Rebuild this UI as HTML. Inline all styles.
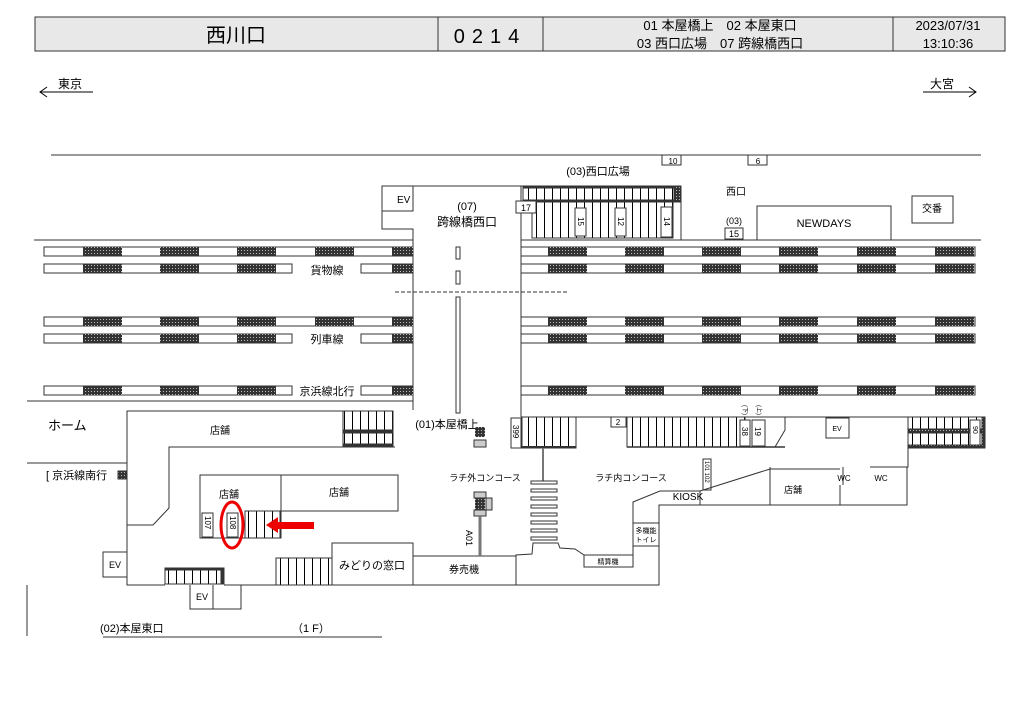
<!DOCTYPE html>
<html><head><meta charset="utf-8"><style>
html,body{margin:0;padding:0;background:#fff;}
svg{display:block;font-family:"Liberation Sans","Noto Sans CJK JP",sans-serif;}
</style></head><body>
<svg width="1024" height="724" viewBox="0 0 1024 724" xmlns="http://www.w3.org/2000/svg">
<defs>
<pattern id="dots" width="3" height="3" patternUnits="userSpaceOnUse"><rect width="3" height="3" fill="#333"/><rect x="1" y="1" width="1" height="1" fill="#bbb"/></pattern>
<pattern id="st" width="8" height="10" patternUnits="userSpaceOnUse"><line x1="0.5" y1="0" x2="0.5" y2="10" stroke="#000" stroke-width="1"/></pattern>
</defs>
<!-- header -->
<rect x="35" y="17" width="970" height="34" fill="#e8e8e8" stroke="#333"/>
<line x1="438" y1="17" x2="438" y2="51" stroke="#333"/>
<line x1="543" y1="17" x2="543" y2="51" stroke="#333"/>
<line x1="893" y1="17" x2="893" y2="51" stroke="#333"/>
<text x="236" y="42" font-size="20" text-anchor="middle">西川口</text>
<text x="490" y="43" font-size="20" text-anchor="middle" letter-spacing="7">0214</text>
<text x="720" y="30" font-size="13" text-anchor="middle">01 本屋橋上　02 本屋東口</text>
<text x="720" y="48" font-size="13" text-anchor="middle">03 西口広場　07 跨線橋西口</text>
<text x="948" y="30" font-size="13" text-anchor="middle">2023/07/31</text>
<text x="948" y="48" font-size="13" text-anchor="middle">13:10:36</text>
<!-- directions -->
<text x="58" y="88" font-size="12">東京</text>
<line x1="40" y1="92" x2="93" y2="92" stroke="#000"/>
<polyline points="47,87 40,92 47,97" fill="none" stroke="#000"/>
<text x="930" y="88" font-size="12">大宮</text>
<line x1="923" y1="92" x2="976" y2="92" stroke="#000"/>
<polyline points="969,87 976,92 969,97" fill="none" stroke="#000"/>
<g stroke="#333" fill="none">
<line x1="51" y1="155" x2="981" y2="155"/>
<line x1="34" y1="240" x2="413" y2="240"/>
<line x1="521" y1="240" x2="981" y2="240"/>
<line x1="27" y1="401" x2="413" y2="401"/>
<line x1="521" y1="417" x2="985" y2="417"/>
<!-- bridge -->
<polyline points="382,186 521,186"/>
<rect x="382" y="186" width="31" height="25"/>
<polyline points="382,211 382,229 413,229 413,410"/>
<line x1="521" y1="186" x2="521" y2="417"/>
<line x1="395" y1="292" x2="567" y2="292" stroke-dasharray="4,2"/>
<rect x="456" y="247" width="4" height="12"/>
<rect x="456" y="271" width="4" height="13"/>
<rect x="456" y="297" width="4" height="116"/>
</g>
<text x="397" y="203" font-size="10">EV</text>
<text x="467" y="210" font-size="11" text-anchor="middle">(07)</text>
<text x="467" y="226" font-size="12" text-anchor="middle">跨線橋西口</text>
<!-- tracks -->
<g stroke="#333" fill="#fff">
<rect x="44" y="247" width="369" height="9"/><rect x="44" y="264" width="248" height="9"/><rect x="361" y="264" width="52" height="9"/>
<rect x="44" y="317" width="369" height="9"/><rect x="44" y="334" width="248" height="9"/><rect x="361" y="334" width="52" height="9"/>
<rect x="44" y="386" width="248" height="9"/><rect x="361" y="386" width="52" height="9"/>
<rect x="521" y="247" width="454" height="9"/><rect x="521" y="264" width="454" height="9"/>
<rect x="521" y="317" width="454" height="9"/><rect x="521" y="334" width="454" height="9"/>
<rect x="521" y="386" width="454" height="9"/>
</g>
<g fill="url(#dots)">
<rect x="83" y="247" width="39" height="9"/><rect x="160" y="247" width="39" height="9"/><rect x="237" y="247" width="39" height="9"/><rect x="315" y="247" width="39" height="9"/><rect x="392" y="247" width="21" height="9"/>
<rect x="83" y="264" width="39" height="9"/><rect x="160" y="264" width="39" height="9"/><rect x="237" y="264" width="39" height="9"/><rect x="392" y="264" width="21" height="9"/>
<rect x="83" y="317" width="39" height="9"/><rect x="160" y="317" width="39" height="9"/><rect x="237" y="317" width="39" height="9"/><rect x="315" y="317" width="39" height="9"/><rect x="392" y="317" width="21" height="9"/>
<rect x="83" y="334" width="39" height="9"/><rect x="160" y="334" width="39" height="9"/><rect x="237" y="334" width="39" height="9"/><rect x="392" y="334" width="21" height="9"/>
<rect x="83" y="386" width="39" height="9"/><rect x="160" y="386" width="39" height="9"/><rect x="237" y="386" width="39" height="9"/><rect x="392" y="386" width="21" height="9"/>
</g>
<g fill="url(#dots)">
<rect x="548" y="247" width="39" height="9"/><rect x="625" y="247" width="39" height="9"/><rect x="702" y="247" width="39" height="9"/><rect x="779" y="247" width="39" height="9"/><rect x="857" y="247" width="39" height="9"/><rect x="935" y="247" width="39" height="9"/>
<rect x="548" y="264" width="39" height="9"/><rect x="625" y="264" width="39" height="9"/><rect x="702" y="264" width="39" height="9"/><rect x="779" y="264" width="39" height="9"/><rect x="857" y="264" width="39" height="9"/><rect x="935" y="264" width="39" height="9"/>
<rect x="548" y="317" width="39" height="9"/><rect x="625" y="317" width="39" height="9"/><rect x="702" y="317" width="39" height="9"/><rect x="779" y="317" width="39" height="9"/><rect x="857" y="317" width="39" height="9"/><rect x="935" y="317" width="39" height="9"/>
<rect x="548" y="334" width="39" height="9"/><rect x="625" y="334" width="39" height="9"/><rect x="702" y="334" width="39" height="9"/><rect x="779" y="334" width="39" height="9"/><rect x="857" y="334" width="39" height="9"/><rect x="935" y="334" width="39" height="9"/>
<rect x="548" y="386" width="39" height="9"/><rect x="625" y="386" width="39" height="9"/><rect x="702" y="386" width="39" height="9"/><rect x="779" y="386" width="39" height="9"/><rect x="857" y="386" width="39" height="9"/><rect x="935" y="386" width="39" height="9"/>
</g>
<text x="327" y="274" font-size="11" text-anchor="middle">貨物線</text>
<text x="327" y="343" font-size="11" text-anchor="middle">列車線</text>
<text x="327" y="395" font-size="11" text-anchor="middle">京浜線北行</text>
<!-- west plaza -->
<text x="598" y="175" font-size="11" text-anchor="middle">(03)西口広場</text>
<g stroke="#333" fill="#fff">
<rect x="662" y="155" width="19" height="10"/><rect x="748" y="155" width="19" height="10"/>
<line x1="500" y1="186" x2="681" y2="186"/>
<rect x="523" y="186" width="158" height="16" fill="url(#st)"/>
<rect x="523" y="186" width="158" height="2" fill="#333"/>
<rect x="523" y="200" width="158" height="2" fill="#333"/>
<rect x="674" y="186" width="7" height="16" fill="url(#dots)"/>
<line x1="681" y1="186" x2="681" y2="240"/>
<rect x="532" y="202" width="141" height="36" fill="url(#st)"/>
<rect x="516" y="201" width="20" height="12"/>
<rect x="575" y="208" width="11" height="28"/><rect x="615" y="208" width="11" height="28"/><rect x="661" y="207" width="11" height="30"/>
<rect x="757" y="206" width="134" height="34"/>
<rect x="912" y="196" width="41" height="27"/>
<rect x="725" y="228" width="18" height="11"/>
</g>
<text x="673" y="164" font-size="8" text-anchor="middle">10</text>
<text x="758" y="164" font-size="8" text-anchor="middle">6</text>
<text x="526" y="211" font-size="9" text-anchor="middle">17</text>
<text x="734" y="237" font-size="9" text-anchor="middle">15</text>
<text x="734" y="224" font-size="9" text-anchor="middle">(03)</text>
<text x="736" y="195" font-size="10" text-anchor="middle">西口</text>
<text x="824" y="227" font-size="11" text-anchor="middle">NEWDAYS</text>
<text x="932" y="212" font-size="10" text-anchor="middle">交番</text>
<text font-size="8" transform="translate(578,217) rotate(90)">15</text>
<text font-size="8" transform="translate(618,217) rotate(90)">12</text>
<text font-size="8" transform="translate(664,217) rotate(90)">14</text>
<!-- lower left -->
<text x="48" y="430" font-size="13">ホーム</text>
<text x="46" y="479" font-size="11">[ 京浜線南行</text>
<rect x="118" y="471" width="9" height="8" fill="url(#dots)" stroke="#333"/>
<line x1="27" y1="463" x2="127" y2="463" stroke="#333"/>
<line x1="27" y1="585" x2="27" y2="636" stroke="#333"/>
<g stroke="#333" fill="none">
<polyline points="343,411 127,411 127,585 165,585"/>
<polyline points="395,447 169,447 169,508 153,525 127,525"/>
<rect x="343" y="411" width="50" height="36" fill="url(#st)"/>
<rect x="343" y="430" width="50" height="3" fill="#333"/>
<rect x="343" y="444" width="50" height="3" fill="#333"/>
<rect x="103" y="552" width="24" height="25"/>
<rect x="165" y="568" width="59" height="16" fill="url(#st)"/>
<rect x="165" y="568" width="59" height="2" fill="#333"/>
<rect x="221" y="568" width="3" height="16" fill="#333"/>
<polyline points="224,585 241,585 241,609 190,609 190,585"/>
<line x1="213" y1="585" x2="213" y2="609"/>
<polyline points="241,585 415,585"/>
<rect x="200" y="475" width="81" height="63"/>
<rect x="281" y="475" width="117" height="36"/>
<rect x="245" y="511" width="35" height="27" fill="url(#st)"/>
<rect x="202" y="513" width="11" height="24"/>
<rect x="227" y="513" width="11" height="24"/>
<rect x="276" y="558" width="56" height="27" fill="url(#st)"/>
<rect x="332" y="543" width="81" height="42"/>
<rect x="413" y="556" width="103" height="29"/>
<line x1="103" y1="637" x2="382" y2="637"/>
</g>
<text x="220" y="434" font-size="10" text-anchor="middle">店舗</text>
<text x="229" y="498" font-size="10" text-anchor="middle">店舗</text>
<text x="339" y="496" font-size="10" text-anchor="middle">店舗</text>
<text x="115" y="568" font-size="9" text-anchor="middle">EV</text>
<text x="202" y="600" font-size="9" text-anchor="middle">EV</text>
<text x="372" y="569" font-size="11" text-anchor="middle">みどりの窓口</text>
<text x="464" y="573" font-size="10" text-anchor="middle">券売機</text>
<text x="100" y="632" font-size="11">(02)本屋東口</text>
<text x="292" y="632" font-size="11">（1 F）</text>
<text font-size="8" transform="translate(205,516) rotate(90)">107</text>
<text font-size="8" transform="translate(230,516) rotate(90)">108</text>
<ellipse cx="232" cy="525" rx="11" ry="23" fill="none" stroke="#e00" stroke-width="3"/>
<polygon points="266,525 278,517 278,522 314,522 314,529 278,529 278,533" fill="#e00"/>
<!-- center -->
<text x="447" y="428" font-size="11" text-anchor="middle">(01)本屋橋上</text>
<rect x="475" y="427" width="10" height="10" fill="url(#dots)"/>
<rect x="474" y="440" width="12" height="7" fill="#ccc" stroke="#333"/>
<text x="485" y="481" font-size="9" text-anchor="middle">ラチ外コンコース</text>
<rect x="474" y="492" width="12" height="6" fill="#ccc" stroke="#333"/>
<rect x="475" y="498" width="10" height="12" fill="url(#dots)"/>
<rect x="474" y="510" width="12" height="6" fill="#ccc" stroke="#333"/>
<rect x="486" y="498" width="6" height="12" fill="#ccc" stroke="#333"/>
<line x1="480" y1="516" x2="480" y2="556" stroke="#777" stroke-width="3"/>
<text font-size="9" transform="translate(466,530) rotate(90)">A01</text>
<g stroke="#333" fill="none">
<rect x="511" y="418" width="10" height="30"/>
<rect x="522" y="417" width="54" height="31" fill="url(#st)"/>
<line x1="522" y1="447" x2="576" y2="447" stroke-width="2"/>
<line x1="543" y1="448" x2="543" y2="481" stroke="#777" stroke-width="2"/>
<polyline points="516,585 516,555 532,554 533,543 558,543 560,548 575,549 584,555"/>
<rect x="584" y="555" width="49" height="12"/>
<polyline points="633,555 633,502 660,491 700,491"/>
<polyline points="516,585 659,585 659,505 700,505"/>
<rect x="633" y="523" width="26" height="23"/>
<rect x="611" y="417" width="15" height="10"/>
<rect x="627" y="417" width="118" height="30" fill="url(#st)"/>
<line x1="627" y1="447" x2="785" y2="447" stroke-width="1.5"/>
<rect x="740" y="420" width="10" height="26" fill="#fff"/>
<rect x="752" y="420" width="13" height="26" fill="#fff"/>
<polyline points="785,417 785,430 775,447"/>
<rect x="826" y="418" width="23" height="20"/>
<rect x="908" y="417" width="76" height="30" fill="url(#st)"/>
<rect x="908" y="429" width="76" height="4" fill="url(#dots)"/>
<rect x="908" y="445" width="76" height="3" fill="url(#dots)"/>
<rect x="982" y="417" width="3" height="31" fill="url(#dots)"/>
<rect x="970" y="420" width="10" height="25" fill="#fff"/>
<polyline points="908,447 908,467 870,467"/>
<polyline points="700,491 770,469 840,469"/>
<polyline points="700,505 907,505 907,467"/>
<line x1="770" y1="467" x2="770" y2="505"/>
<line x1="840" y1="505" x2="840" y2="485"/>
<line x1="843" y1="467" x2="843" y2="485"/>
<line x1="700" y1="491" x2="700" y2="505"/>
<rect x="703" y="459" width="8" height="31"/>
</g>
<text x="618" y="425" font-size="8" text-anchor="middle">2</text>
<text font-size="8" transform="translate(513,425) rotate(90)">399</text>
<text font-size="8" transform="translate(742,427) rotate(90)">38</text>
<text font-size="8" transform="translate(755,427) rotate(90)">19</text>
<text font-size="7" transform="translate(973,426) rotate(90)">90</text>
<text font-size="6" transform="translate(743,405) rotate(90)">(下)</text>
<text font-size="6" transform="translate(757,405) rotate(90)">(上)</text>
<text font-size="6" transform="translate(705,461) rotate(90)">101 102</text>
<text x="631" y="481" font-size="9" text-anchor="middle">ラチ内コンコース</text>
<text x="688" y="500" font-size="10" text-anchor="middle">KIOSK</text>
<text x="793" y="493" font-size="9" text-anchor="middle">店舗</text>
<text x="844" y="481" font-size="8" text-anchor="middle">WC</text>
<text x="881" y="481" font-size="8" text-anchor="middle">WC</text>
<text x="837" y="431" font-size="7" text-anchor="middle">EV</text>
<text x="646" y="533" font-size="7" text-anchor="middle">多機能</text>
<text x="646" y="542" font-size="7" text-anchor="middle">トイレ</text>
<text x="608" y="564" font-size="7" text-anchor="middle">精算機</text>
<g fill="#fff" stroke="#333">
<rect x="531" y="481" width="26" height="3"/><rect x="531" y="489" width="26" height="3"/><rect x="531" y="497" width="26" height="3"/><rect x="531" y="505" width="26" height="3"/><rect x="531" y="513" width="26" height="3"/><rect x="531" y="521" width="26" height="3"/><rect x="531" y="529" width="26" height="3"/><rect x="531" y="537" width="26" height="3"/>
</g>
</svg>
</body></html>
